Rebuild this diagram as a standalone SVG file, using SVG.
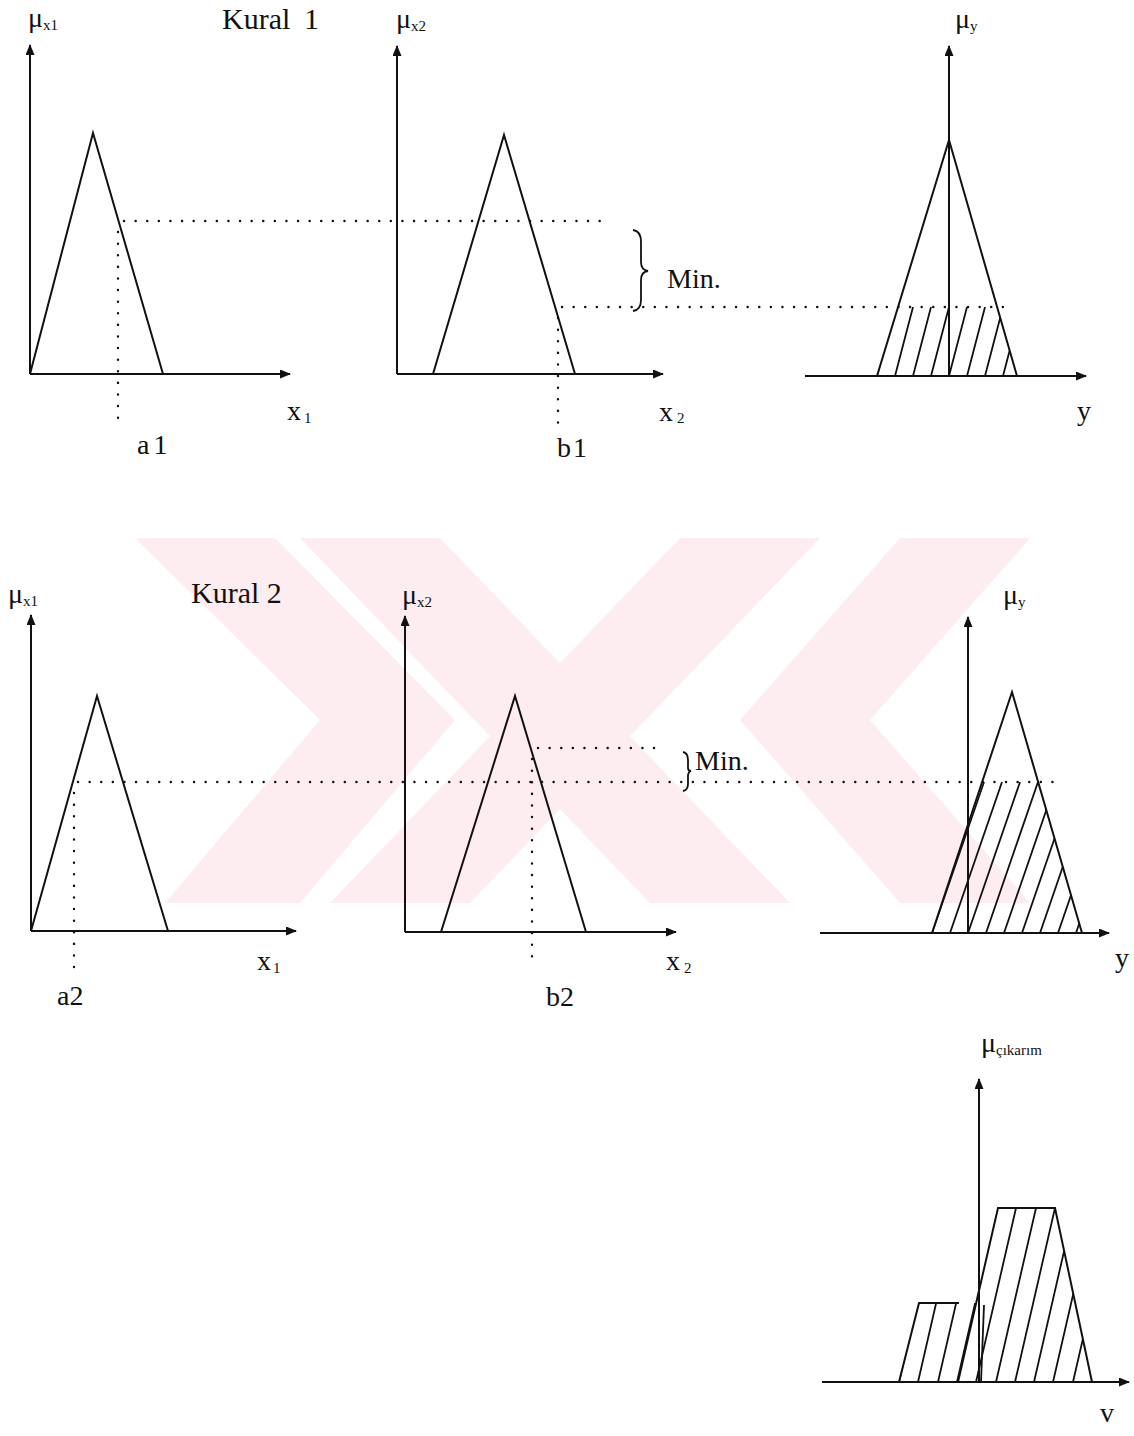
<svg xmlns="http://www.w3.org/2000/svg" width="1134" height="1436" viewBox="0 0 1134 1436">
<defs>
<marker id="arr" markerUnits="userSpaceOnUse" markerWidth="11" markerHeight="9" refX="10" refY="4.5" orient="auto">
<path d="M0,0 L11,4.5 L0,9 z" fill="#111"/>
</marker>
<clipPath id="c1"><polygon points="877,376 898,307 997,307 1017,376"/></clipPath>
<clipPath id="c2"><polygon points="932,933 983,782 1038,782 1082,933"/></clipPath>
<clipPath id="c3"><polygon points="899,1382 919,1303 976,1303 998,1208 1055,1208 1092,1382"/></clipPath>
</defs>
<style>
.ax{stroke:#111;stroke-width:2;fill:none;marker-end:url(#arr)}
.ln{stroke:#111;stroke-width:2;fill:none;stroke-linejoin:miter}
.ht{stroke:#111;stroke-width:1.8;fill:none}
.dot{stroke:#111;stroke-width:2.4;fill:none;stroke-dasharray:0.1 11.5;stroke-linecap:round}
.br{stroke:#111;stroke-width:1.8;fill:none}
text{font-family:"Liberation Serif","Times New Roman",serif;fill:#111}
.mu{font-size:28px}
.sub{font-size:15px}
.ttl{font-size:30px}
.lab{font-size:28px}
.wm{fill:#fdedf0}
</style>
<rect width="1134" height="1436" fill="#fff"/>
<g id="watermark">
<polygon class="wm" points="135,538 275,538 455,720 300,903 165,903 320,720"/>
<polygon class="wm" points="300,538 440,538 790,903 650,903"/>
<polygon class="wm" points="330,903 470,903 820,538 680,538"/>
<polygon class="wm" points="900,538 1030,538 870,720 1030,903 900,903 740,720"/>
</g>
<g id="rule1-x1">
<text class="ttl" x="222" y="29">Kural <tspan x="304">1</tspan></text>
<text class="mu" x="28" y="27">μ<tspan class="sub" dy="3">x1</tspan></text>
<line class="ax" x1="30" y1="374" x2="30" y2="45"/>
<line class="ax" x1="30" y1="374" x2="290" y2="374"/>
<polyline class="ln" points="30,374 93,133 163,374"/>
<text class="lab" x="287" y="420">x<tspan class="sub" dx="3" dy="3" font-size="16">1</tspan></text>
<text class="lab" x="137" y="454" font-size="26">a<tspan dx="4">1</tspan></text>
</g>
<g id="rule1-x2">
<text class="mu" x="396" y="28">μ<tspan class="sub" dy="3">x2</tspan></text>
<line class="ax" x1="397" y1="374" x2="397" y2="46"/>
<line class="ax" x1="397" y1="374" x2="663" y2="374"/>
<polyline class="ln" points="433,374 504,135 575,374"/>
<text class="lab" x="659" y="421">x<tspan class="sub" dx="4" dy="2" font-size="16">2</tspan></text>
<text class="lab" x="557" y="457" font-size="26">b<tspan dx="2">1</tspan></text>
</g>
<g id="rule1-y">
<text class="mu" x="955" y="28">μ<tspan class="sub" dy="3">y</tspan></text>
<line class="ax" x1="949" y1="376" x2="949" y2="46"/>
<line class="ax" x1="805" y1="376" x2="1086" y2="376"/>
<polyline class="ln" points="877,376 949,140 1017,376"/>
<g clip-path="url(#c1)">
<path class="ht" d="M859,376 L877,307 M877,376 L895,307 M895,376 L913,307 M913,376 L931,307 M931,376 L949,307 M949,376 L967,307 M967,376 L985,307 M985,376 L1003,307 M1003,376 L1021,307 M1021,376 L1039,307"/>
</g>
<text class="lab" x="1077" y="420">y</text>
</g>
<g id="rule2-x1">
<text class="ttl" x="191" y="603">Kural 2</text>
<text class="mu" x="8" y="603">μ<tspan class="sub" dy="3">x1</tspan></text>
<line class="ax" x1="31" y1="931" x2="31" y2="615"/>
<line class="ax" x1="31" y1="931" x2="296" y2="931"/>
<polyline class="ln" points="31,931 97,696 168,931"/>
<text class="lab" x="257" y="970">x<tspan class="sub" dx="2" dy="3" font-size="16">1</tspan></text>
<text class="lab" x="57" y="1005" font-size="26">a2</text>
</g>
<g id="rule2-x2">
<text class="mu" x="402" y="604">μ<tspan class="sub" dy="3">x2</tspan></text>
<line class="ax" x1="405" y1="932" x2="405" y2="616"/>
<line class="ax" x1="405" y1="932" x2="676" y2="932"/>
<polyline class="ln" points="441,932 515,696 586,932"/>
<text class="lab" x="666" y="970">x<tspan class="sub" dx="4" dy="3" font-size="16">2</tspan></text>
<text class="lab" x="546" y="1006" font-size="26">b2</text>
</g>
<g id="rule2-y">
<text class="mu" x="1003" y="604">μ<tspan class="sub" dy="3">y</tspan></text>
<line class="ax" x1="968" y1="933" x2="968" y2="617"/>
<line class="ax" x1="820" y1="933" x2="1109" y2="933"/>
<polyline class="ln" points="932,933 1012,692 1082,933"/>
<g clip-path="url(#c2)">
<path class="ht" d="M896,933 L948,782 M914,933 L966,782 M932,933 L984,782 M950,933 L1002,782 M968,933 L1020,782 M986,933 L1038,782 M1004,933 L1056,782 M1022,933 L1074,782 M1040,933 L1092,782 M1058,933 L1110,782 M1076,933 L1128,782"/>
</g>
<text class="lab" x="1115" y="967">y</text>
</g>
<g id="output">
<text class="mu" x="981" y="1052" font-size="22">μ<tspan class="sub" font-size="11" dy="3">çıkarım</tspan></text>
<line class="ax" x1="979" y1="1382" x2="979" y2="1079"/>
<line class="ax" x1="822" y1="1382" x2="1129" y2="1382"/>
<polyline class="ln" points="899,1382 919,1303 959,1303"/>
<polyline class="ln" points="958,1382 998,1208 1055,1208 1092,1382"/>
<line class="ht" x1="981" y1="1382" x2="984" y2="1305"/>
<g clip-path="url(#c3)">
<path class="ht" d="M880,1382 L920,1208 M899,1382 L939,1208 M918,1382 L958,1208 M938,1382 L978,1208 M957,1382 L997,1208 M976,1382 L1016,1208 M996,1382 L1036,1208 M1015,1382 L1055,1208 M1034,1382 L1074,1208 M1053,1382 L1093,1208 M1073,1382 L1113,1208"/>
</g>
<text class="lab" x="1100" y="1422" font-size="24">v</text>
</g>
<g id="connectors">
<line class="dot" x1="124" y1="221" x2="607" y2="221"/>
<line class="dot" x1="118" y1="232" x2="118" y2="425"/>
<line class="dot" x1="562" y1="307" x2="1003" y2="307"/>
<line class="dot" x1="558" y1="318" x2="558" y2="425"/>
<line class="dot" x1="78" y1="782" x2="1060" y2="782"/>
<line class="dot" x1="74" y1="793" x2="74" y2="976"/>
<line class="dot" x1="538" y1="748" x2="656" y2="748"/>
<line class="dot" x1="532" y1="759" x2="532" y2="966"/>
<path class="br" d="M633,230 Q641,231 641,242 L641,262 Q641,270 648,271 Q641,272 641,280 L641,300 Q641,310 633,311"/>
<path class="br" d="M683,752 Q688,753 688,760 L688,768 Q688,771 691,771 Q688,772 688,776 L688,784 Q688,790 683,791"/>
<text class="lab" x="667" y="288" font-size="28">Min.</text>
<text class="lab" x="695" y="770" font-size="27">Min.</text>
</g>
</svg>
